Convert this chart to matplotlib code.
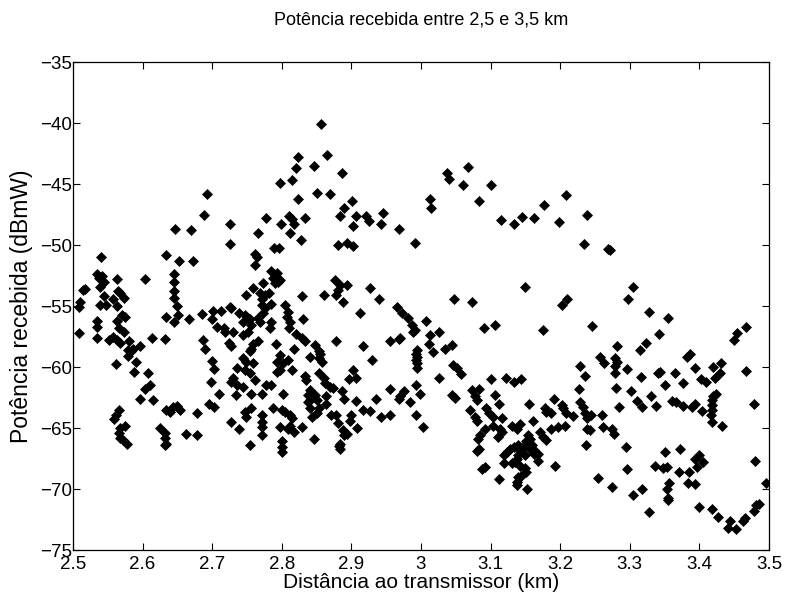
import matplotlib
matplotlib.use("Agg")
import matplotlib.pyplot as plt
import numpy as np

# Pontos: (distância em km, potência em dBmW), por faixa de distância
faixa_250_272 = [
    (2.693, -45.8), (2.688, -47.5), (2.726, -48.3), (2.725, -49.9), (2.646, -48.7), (2.670, -48.8),
    (2.634, -50.8), (2.653, -51.3), (2.673, -51.3), (2.540, -51.0),
    (2.534, -52.4), (2.542, -52.5), (2.537, -52.7), (2.545, -53.0), (2.563, -52.8), (2.603, -52.8),
    (2.645, -52.4), (2.645, -53.0), (2.645, -53.75), (2.645, -54.35),
    (2.517, -53.6), (2.515, -53.7), (2.539, -53.45), (2.545, -54.2), (2.565, -53.8), (2.568, -53.9),
    (2.558, -54.4), (2.573, -54.35), (2.510, -54.7), (2.508, -55.1),
    (2.650, -55.0), (2.651, -55.7), (2.645, -56.3), (2.633, -55.9), (2.667, -56.1),
    (2.539, -54.9), (2.548, -54.9), (2.563, -55.0),
    (2.570, -55.7), (2.574, -55.9), (2.563, -56.2), (2.566, -56.8),
    (2.535, -56.2), (2.535, -56.7), (2.508, -57.2),
    (2.535, -57.6), (2.551, -57.8), (2.558, -57.5), (2.563, -57.8), (2.568, -58.05),
    (2.573, -57.15), (2.581, -57.9),
    (2.579, -58.6), (2.584, -58.7), (2.586, -58.5), (2.579, -59.1), (2.596, -58.3),
    (2.613, -57.6), (2.632, -57.7),
    (2.562, -59.75), (2.590, -59.6), (2.588, -60.4), (2.608, -60.5),
    (2.610, -61.5), (2.603, -61.8), (2.596, -62.6), (2.615, -62.7),
    (2.566, -63.5), (2.562, -63.9), (2.559, -64.3),
    (2.568, -65.0), (2.574, -64.8), (2.566, -65.4), (2.568, -65.8), (2.572, -66.0), (2.577, -66.3),
    (2.634, -63.5), (2.639, -63.7), (2.644, -63.25), (2.649, -63.2), (2.654, -63.5), (2.678, -63.8),
    (2.625, -65.0), (2.632, -65.4), (2.632, -65.85), (2.632, -66.4), (2.634, -66.3),
    (2.663, -65.45), (2.678, -65.6),
    (2.686, -55.65), (2.701, -55.4), (2.712, -55.4), (2.725, -55.1),
    (2.699, -56.1), (2.707, -56.7), (2.717, -56.8), (2.719, -57.1),
    (2.687, -57.8), (2.689, -58.5),
    (2.699, -59.5), (2.703, -60.2), (2.698, -61.2), (2.724, -58.05),
    (2.710, -62.2), (2.695, -63.0), (2.702, -63.25),
]

faixa_272_297 = [
    (2.856, -40.1), (2.865, -42.6), (2.823, -42.8), (2.846, -43.5), (2.820, -43.7), (2.886, -44.1),
    (2.797, -44.9), (2.814, -44.7), (2.851, -45.7), (2.869, -45.8), (2.823, -46.2), (2.901, -46.4),
    (2.889, -47.0), (2.884, -47.6), (2.906, -47.65), (2.921, -47.65), (2.926, -48.0), (2.945, -47.4),
    (2.943, -48.25), (2.902, -48.4), (2.968, -48.7),
    (2.811, -47.65), (2.815, -47.9), (2.818, -48.25), (2.834, -47.8), (2.777, -47.8), (2.799, -48.3),
    (2.812, -49.0), (2.828, -49.6), (2.766, -49.05),
    (2.789, -50.25), (2.796, -50.25), (2.881, -50.0), (2.894, -49.8), (2.902, -50.1),
    (2.762, -50.7), (2.765, -51.0), (2.761, -51.6),
    (2.785, -52.1), (2.793, -52.3), (2.788, -52.7), (2.795, -53.0), (2.797, -52.9), (2.790, -53.1),
    (2.773, -53.1), (2.759, -53.5), (2.748, -54.1), (2.768, -53.95), (2.776, -54.1), (2.782, -53.95),
    (2.771, -54.4), (2.829, -54.2), (2.861, -54.1), (2.877, -52.9), (2.883, -53.3), (2.893, -53.3),
    (2.881, -53.7), (2.878, -54.1), (2.927, -53.5), (2.940, -54.45),
    (2.888, -54.7), (2.913, -55.6), (2.727, -55.2), (2.739, -55.6), (2.747, -55.7), (2.752, -56.0),
    (2.744, -56.3), (2.754, -56.1), (2.756, -56.55),
    (2.771, -54.9), (2.776, -55.2), (2.773, -55.6), (2.766, -56.0), (2.768, -56.3), (2.785, -54.8),
    (2.805, -54.9), (2.809, -55.5), (2.807, -55.9), (2.812, -56.3), (2.811, -56.8),
    (2.830, -56.1), (2.785, -56.3), (2.783, -56.8),
    (2.730, -57.1), (2.744, -57.4), (2.752, -57.1),
    (2.821, -57.3), (2.829, -57.6), (2.834, -57.9), (2.792, -58.1),
    (2.766, -57.9), (2.759, -58.1), (2.756, -58.5), (2.754, -58.7), (2.727, -58.3), (2.817, -58.5),
    (2.848, -58.2), (2.853, -58.7), (2.841, -59.2), (2.853, -59.3), (2.858, -59.6), (2.855, -58.9),
    (2.878, -57.9), (2.916, -58.3), (2.929, -59.4), (2.955, -57.9), (2.968, -57.7), (2.965, -55.1),
    (2.797, -59.0), (2.793, -59.6), (2.802, -59.7), (2.809, -59.4), (2.814, -60.25), (2.797, -60.25),
    (2.793, -60.4),
    (2.744, -59.3), (2.749, -59.6), (2.759, -59.7), (2.735, -60.1), (2.747, -60.25), (2.754, -60.5),
    (2.727, -61.2), (2.735, -61.5), (2.744, -61.6), (2.761, -61.1), (2.730, -60.9),
    (2.778, -61.5), (2.785, -61.5),
    (2.734, -62.3), (2.756, -62.2), (2.771, -62.2), (2.802, -62.2),
    (2.834, -60.7), (2.835, -61.1), (2.853, -60.5), (2.860, -60.9), (2.862, -61.35),
    (2.869, -61.6), (2.874, -61.7),
    (2.841, -61.9), (2.838, -62.3), (2.843, -62.4), (2.848, -62.3), (2.841, -62.7), (2.851, -62.7),
    (2.837, -62.9), (2.864, -62.4), (2.864, -63.0),
    (2.841, -63.4), (2.853, -63.4), (2.843, -64.1), (2.850, -63.8),
    (2.887, -62.0), (2.890, -62.6), (2.902, -60.25), (2.897, -61.0), (2.907, -60.9),
    (2.907, -62.8), (2.917, -63.5), (2.927, -63.6), (2.936, -62.6),
    (2.955, -61.8), (2.968, -62.6), (2.956, -63.9), (2.942, -64.1),
    (2.871, -63.9), (2.878, -63.95), (2.881, -64.6),
    (2.900, -63.95), (2.898, -64.4), (2.908, -65.0),
    (2.888, -65.2), (2.890, -65.6), (2.893, -65.5),
    (2.883, -66.3), (2.883, -66.7), (2.882, -66.5), (2.846, -65.9),
    (2.787, -63.4), (2.800, -63.5), (2.805, -63.7), (2.812, -63.95), (2.814, -64.2), (2.812, -64.8),
    (2.817, -65.3), (2.797, -64.95), (2.809, -65.05), (2.829, -64.9),
    (2.771, -63.95), (2.771, -64.5), (2.771, -64.9), (2.771, -65.6),
    (2.747, -63.7), (2.749, -64.1), (2.739, -65.05), (2.727, -64.5), (2.756, -63.4), (2.754, -66.4),
    (2.800, -66.1), (2.800, -66.55), (2.800, -66.95),
]

faixa_297_324 = [
    (3.068, -43.6), (3.037, -44.1), (3.040, -44.6), (3.061, -45.1), (3.100, -45.1), (3.084, -46.4),
    (3.013, -46.2), (3.015, -47.0), (3.115, -47.95), (3.133, -48.25), (3.145, -47.7), (3.163, -47.8),
    (3.177, -46.7), (3.208, -45.9), (3.198, -48.1), (3.239, -47.5), (3.234, -49.9), (2.992, -49.8),
    (3.150, -53.4), (3.048, -54.4), (3.073, -54.65), (3.210, -54.4), (3.202, -54.95),
    (3.090, -56.8), (3.107, -56.55), (3.176, -56.95),
    (2.972, -55.6), (2.982, -56.0), (2.987, -56.55), (2.992, -56.95), (2.989, -57.1),
    (3.007, -56.2), (3.026, -57.1), (3.013, -57.4), (3.012, -58.1),
    (3.017, -58.8), (3.035, -58.5), (3.044, -58.2),
    (2.994, -58.6), (2.994, -59.2), (2.994, -59.7), (2.994, -60.1), (2.993, -58.9), (2.993, -59.4),
    (2.970, -57.65), (3.046, -59.8), (3.052, -60.1), (3.058, -60.6), (3.026, -60.9),
    (2.993, -61.5), (2.998, -62.2), (2.976, -62.0), (2.984, -62.9), (2.993, -63.9), (3.003, -64.9),
    (2.970, -62.4), (3.045, -62.3), (3.049, -62.5),
    (3.101, -61.0), (3.122, -60.9), (3.133, -61.2), (3.143, -61.0),
    (3.073, -61.9), (3.083, -61.8), (3.078, -62.4), (3.081, -62.7),
    (3.106, -62.3), (3.112, -63.0),
    (3.070, -63.5), (3.078, -64.1), (3.081, -64.4),
    (3.094, -63.35), (3.097, -63.8), (3.104, -64.1), (3.116, -64.2),
    (3.092, -65.05), (3.104, -64.8), (3.114, -65.05), (3.116, -65.3), (3.111, -65.7),
    (3.085, -65.6), (3.082, -65.9), (3.083, -66.7), (3.080, -66.9),
    (3.131, -64.8), (3.138, -65.05), (3.142, -64.7), (3.155, -63.05), (3.161, -64.4),
    (3.171, -65.3), (3.175, -65.7), (3.180, -66.0), (3.178, -63.4),
    (3.180, -63.7), (3.187, -63.8), (3.191, -62.6), (3.187, -65.05), (3.197, -64.9), (3.207, -64.8),
    (3.203, -63.1), (3.204, -63.4), (3.208, -63.8), (3.219, -64.0),
    (3.228, -59.95), (3.236, -60.7), (3.227, -61.8),
    (3.228, -62.9), (3.233, -63.3), (3.236, -63.8), (3.238, -64.2), (3.237, -66.4), (3.238, -65.05),
    (3.119, -67.2), (3.123, -66.95), (3.128, -66.7), (3.133, -66.55), (3.140, -66.4), (3.142, -66.8),
    (3.146, -66.55), (3.151, -66.1), (3.156, -65.9), (3.159, -66.4), (3.161, -66.7), (3.163, -67.1),
    (3.168, -67.1), (3.154, -65.6), (3.156, -66.7), (3.149, -67.2), (3.140, -67.2), (3.138, -67.5),
    (3.135, -67.8), (3.131, -67.9), (3.119, -67.9), (3.142, -68.1), (3.149, -68.3), (3.151, -68.6),
    (3.144, -68.9), (3.140, -69.0), (3.138, -69.4), (3.138, -69.7), (3.153, -70.0), (3.112, -69.2),
    (3.087, -68.4), (3.092, -68.2), (3.192, -68.1), (3.168, -67.7),
]

faixa_324_350 = [
    (3.269, -50.3), (3.272, -50.4), (3.305, -53.4), (3.297, -54.4),
    (3.327, -55.5), (3.355, -56.0), (3.246, -56.6),
    (3.342, -57.3), (3.323, -58.0), (3.314, -58.6),
    (3.282, -58.3), (3.279, -59.3), (3.281, -59.6), (3.279, -59.95), (3.279, -60.5), (3.257, -59.2),
    (3.263, -59.7),
    (3.280, -61.7), (3.296, -60.2), (3.302, -62.0), (3.310, -62.8), (3.317, -63.3), (3.285, -63.3),
    (3.331, -62.4), (3.338, -63.2),
    (3.316, -60.8), (3.341, -60.5), (3.343, -60.4), (3.351, -61.5), (3.365, -60.5), (3.376, -61.3),
    (3.382, -59.2), (3.386, -58.9), (3.393, -60.1),
    (3.360, -62.8), (3.367, -62.9), (3.376, -63.2), (3.389, -63.3), (3.394, -63.05),
    (3.403, -61.0), (3.410, -61.2), (3.420, -60.0), (3.422, -60.9), (3.429, -60.5), (3.431, -59.7),
    (3.420, -62.4), (3.418, -62.7), (3.418, -63.1), (3.418, -63.5), (3.417, -63.95), (3.418, -64.5),
    (3.404, -63.6), (3.432, -64.8), (3.424, -62.2),
    (3.450, -57.8), (3.454, -57.2), (3.467, -56.7), (3.467, -60.3), (3.478, -63.0),
    (3.243, -65.2), (3.244, -63.95), (3.260, -63.95), (3.261, -64.9), (3.275, -65.05), (3.277, -65.5),
    (3.294, -66.55), (3.296, -68.4),
    (3.255, -69.1), (3.274, -69.8), (3.304, -70.5), (3.318, -70.0), (3.328, -71.9),
    (3.336, -68.1), (3.347, -68.3), (3.353, -68.2), (3.350, -67.0), (3.372, -66.7), (3.371, -68.6),
    (3.385, -68.6), (3.394, -67.5), (3.400, -67.2), (3.405, -67.8), (3.396, -68.2), (3.383, -69.5),
    (3.394, -69.6),
    (3.357, -69.5), (3.354, -70.0), (3.355, -70.7), (3.355, -70.9),
    (3.400, -71.5), (3.418, -71.6), (3.427, -72.3), (3.444, -72.6), (3.441, -73.2), (3.452, -73.3),
    (3.463, -72.6), (3.466, -72.4), (3.478, -71.8), (3.482, -71.3), (3.486, -71.2), (3.480, -67.7),
    (3.496, -69.5),
]

x_ticks = [2.5, 2.6, 2.7, 2.8, 2.9, 3.0, 3.1, 3.2, 3.3, 3.4, 3.5]
x_tick_labels = ["2.5", "2.6", "2.7", "2.8", "2.9", "3", "3.1", "3.2", "3.3", "3.4", "3.5"]
y_ticks = [-75, -70, -65, -60, -55, -50, -45, -40, -35]

pontos = np.array(faixa_250_272 + faixa_272_297 + faixa_297_324 + faixa_324_350)
distancia = pontos[:, 0]
potencia = pontos[:, 1]

plt.rcParams["font.family"] = ["Liberation Sans", "DejaVu Sans"]

fig = plt.figure(figsize=(7.85, 5.97), dpi=100)
ax = fig.add_axes([0.093, 0.0787, 0.8866, 0.8174])

ax.plot(distancia, potencia, linestyle="none", marker="D", markersize=4.6,
        color="black", markeredgewidth=0.5)

ax.set_xlim(2.5, 3.5)
ax.set_ylim(-75, -35)
ax.set_xticks(x_ticks)
ax.set_xticklabels(x_tick_labels)
ax.set_yticks(y_ticks)
ax.tick_params(direction="in", top=True, right=True, length=5, width=0.8,
               labelsize=13.5)
ax.tick_params(axis="x", pad=4)
ax.tick_params(axis="y", pad=1)
for spine in ax.spines.values():
    spine.set_linewidth(0.9)

ax.set_title("Potência recebida entre 2,5 e 3,5 km", fontsize=13, pad=27)
ax.set_xlabel("Distância ao transmissor (km)", fontsize=15, labelpad=0)
ax.set_ylabel("Potência recebida (dBmW)", fontsize=16.5, labelpad=5)

fig.savefig("out.png", dpi=100)
